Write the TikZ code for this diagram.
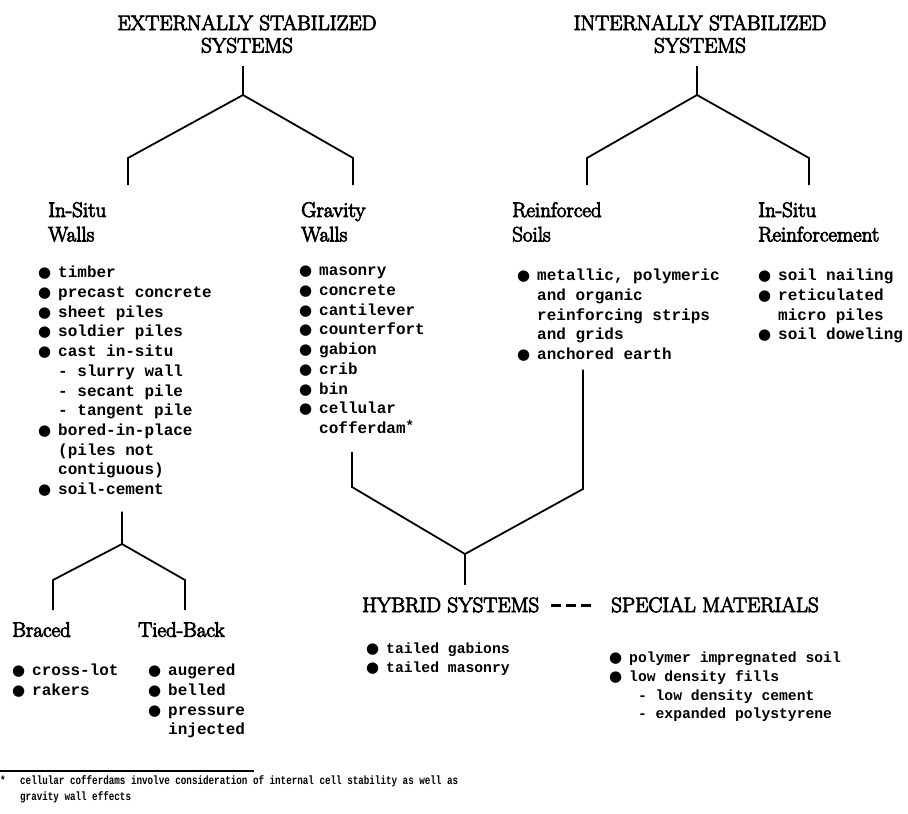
\documentclass[tikz,border=0pt]{standalone}
\usepackage{fontspec}
\setmonofont{Liberation Mono}
\newfontfamily\dotfont{DejaVu Sans}
\newfontfamily\headfont{Latin Modern Roman}[FakeBold=4]
\usepackage{tikz}

\newcommand{\blt}{\makebox[20pt][l]{\dotfont\fontsize{15}{15}\selectfont ●}}
\newcommand{\ind}{\hspace*{20pt}}
\newcommand{\fnstar}{\raisebox{0.2em}{\fontsize{14}{14}\selectfont *}}
\newcommand{\dsh}{\rule[5.5pt]{10pt}{2.4pt}}

\begin{document}
\begin{tikzpicture}[x=1pt, y=-1pt,
  head/.style={inner sep=0pt, align=center, anchor=north, font=\headfont\fontsize{21}{22.5}\selectfont},
  subhead/.style={inner sep=0pt, align=left, anchor=north west, font=\headfont\fontsize{21}{24.5}\selectfont},
  items/.style={inner sep=0pt, align=left, anchor=north west, font=\ttfamily\bfseries\fontsize{16}{19.7}\selectfont},
  smallitems/.style={items, font=\ttfamily\bfseries\fontsize{14.7}{18.6}\selectfont},
  branch/.style={line width=1.8pt}]
\useasboundingbox (0,0) rectangle (908,814);

% headings
\node[head] (ext) at (247,15) {EXTERNALLY STABILIZED\\SYSTEMS};
\node[head] (int) at (700,15) {INTERNALLY STABILIZED\\SYSTEMS};

\node[subhead] (insitu) at (48,202) {In-Situ\\Walls};
\node[subhead] (gravity) at (301,202) {Gravity\\Walls};
\node[subhead] (reinf) at (512,202) {Reinforced\\Soils};
\node[subhead] (insitur) at (758,202) {In-Situ\\Reinforcement};
\node[subhead] (braced) at (12,622) {Braced};
\node[subhead] (tied) at (138,622) {Tied-Back};
\node[subhead] (hybrid) at (362,597) {HYBRID SYSTEMS\hspace{12pt}\dsh\hspace{5pt}\dsh\hspace{5pt}\dsh\hspace{20pt}SPECIAL MATERIALS};

% lists
\node[items] (lInsitu) at (38,266) {\blt timber\\ \blt precast concrete\\ \blt sheet piles\\
  \blt soldier piles\\ \blt cast in-situ\\ \ind - slurry wall\\ \ind - secant pile\\
  \ind - tangent pile\\ \blt bored-in-place\\ \ind (piles not\\ \ind contiguous)\\ \blt soil-cement};
\node[items] (lGravity) at (299,266) {\blt masonry\\ \blt concrete\\ \blt cantilever\\
  \blt counterfort\\ \blt gabion\\ \blt crib\\ \blt bin\\ \blt cellular\\ \ind cofferdam\fnstar};
\node[items] (lReinf) at (517,269) {\blt metallic, polymeric\\ \ind and organic\\
  \ind reinforcing strips\\ \ind and grids\\ \blt anchored earth};
\node[items] (lInsitur) at (758,269) {\blt soil nailing\\ \blt reticulated\\ \ind micro piles\\
  \blt soil doweling};
\node[items] (lBraced) at (12,664) {\blt cross-lot\\ \blt rakers};
\node[items] (lTied) at (148,664) {\blt augered\\ \blt belled\\ \blt pressure\\ \ind injected};
\node[smallitems] (lHybrid) at (366,643) {\blt tailed gabions\\ \blt tailed masonry};
\node[smallitems] (lSpecial) at (609,652) {\blt polymer impregnated soil\\ \blt low density fills\\
  \ind\phantom{x}- low density cement\\ \ind\phantom{x}- expanded polystyrene};

% branch points
\coordinate (extJ) at (243,95);
\coordinate (extL) at (128,158);
\coordinate (extR) at (353,158);
\coordinate (intJ) at (697,95);
\coordinate (intL) at (587,158);
\coordinate (intR) at (809,158);
\coordinate (bwJ) at (122,544);
\coordinate (bwL) at (53,580);
\coordinate (bwR) at (185,580);
\coordinate (hybL) at (352,487);
\coordinate (hybJ) at (465,554);
\coordinate (hybR) at (583,489);

\draw[branch, shorten <=13pt, shorten >=17pt] (ext.south -| extJ) -- (extJ) -- (extL) -- (insitu.north -| extL);
\draw[branch, shorten >=17pt] (extJ) -- (extR) -- (gravity.north -| extR);
\draw[branch, shorten <=13pt, shorten >=17pt] (int.south -| intJ) -- (intJ) -- (intL) -- (reinf.north -| intL);
\draw[branch, shorten >=17pt] (intJ) -- (intR) -- (insitur.north -| intR);

\draw[branch, shorten <=15pt, shorten >=12pt] (lInsitu.south -| bwJ) -- (bwJ) -- (bwL) -- (braced.north -| bwL);
\draw[branch, shorten >=12pt] (bwJ) -- (bwR) -- (tied.north -| bwR);

\draw[branch, shorten <=18pt, shorten >=8pt] (lGravity.south -| hybL) -- (hybL) -- (hybJ) -- (hybR) -- (lReinf.south -| hybR);
\draw[branch, shorten >=12pt] (hybJ) -- (hybrid.north -| hybJ);

% footnote
\draw[line width=1.4pt] (0,771) -- (254,771);
\node[anchor=north west, inner sep=0pt, align=left, xscale=0.77, transform shape,
  font=\ttfamily\bfseries\fontsize{12}{16}\selectfont] (note) at (0,775)
  {\makebox[26pt][l]{*}cellular cofferdams involve consideration of internal cell stability as well as\\
  \hspace*{26pt}gravity wall effects};
\end{tikzpicture}
\end{document}
